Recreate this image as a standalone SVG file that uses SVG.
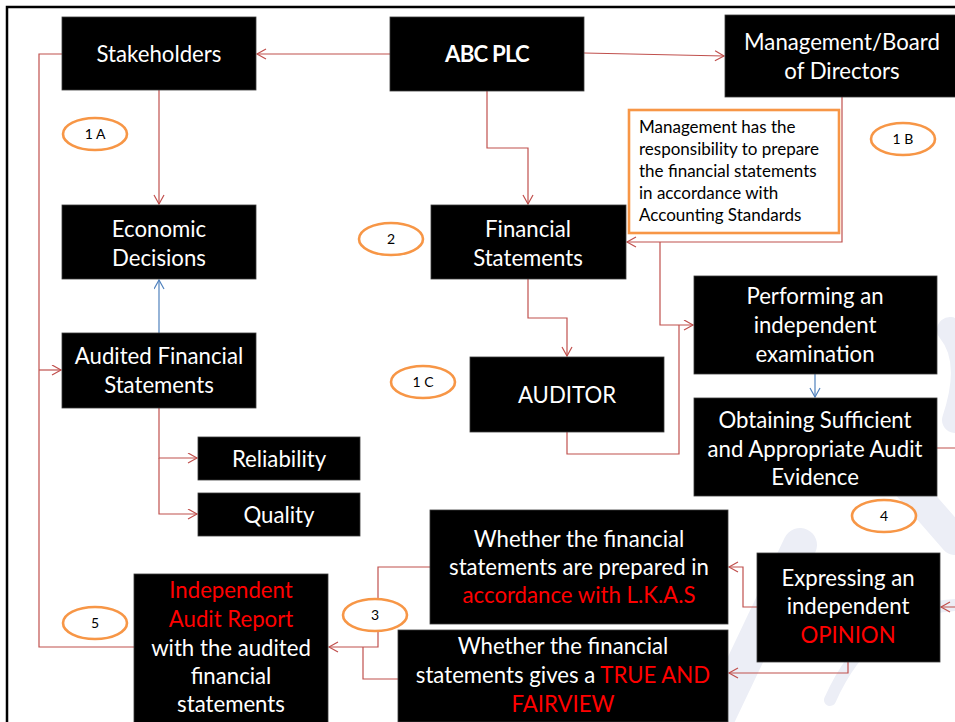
<svg xmlns="http://www.w3.org/2000/svg" width="955" height="722" viewBox="0 0 955 722">
<style>
.box{fill:#000;stroke:#3a3a3a;stroke-width:0.8}
.t{font-family:Lato,"Liberation Sans",sans-serif;font-size:22.2px;fill:#fff;text-anchor:middle}
.r{fill:#ff0000}
.c{fill:none;stroke:#c0504d;stroke-width:1.2}
.b{fill:none;stroke:#4f81bd;stroke-width:1.2}
.ell{fill:#fff;stroke:#f79646;stroke-width:2.6}
.el{font-family:Lato,"Liberation Sans",sans-serif;font-size:14px;fill:#000;text-anchor:middle}
.wm{fill:none;stroke:#eceef6;stroke-linecap:round}
</style>
<defs>
<marker id="ar" markerUnits="userSpaceOnUse" markerWidth="12" markerHeight="12" refX="10" refY="5.5" orient="auto">
<path d="M1,0.5 L10,5.5 L1,10.5" fill="none" stroke="#c0504d" stroke-width="1.2"/>
</marker>
<marker id="ab" markerUnits="userSpaceOnUse" markerWidth="12" markerHeight="12" refX="10" refY="5.5" orient="auto">
<path d="M1,0.5 L10,5.5 L1,10.5" fill="none" stroke="#4f81bd" stroke-width="1.2"/>
</marker>
</defs>
<rect width="955" height="722" fill="#fff"/>
<g id="watermark">
<path class="wm" stroke-width="34" d="M712,730 L800,545"/>
<path class="wm" stroke-width="30" d="M850,420 L955,540"/>
<path class="wm" stroke-width="26" d="M950,330 Q975,360 955,420"/>
<path class="wm" stroke-width="12" d="M830,700 Q870,610 955,605"/>
</g>
<rect x="7" y="7" width="1000" height="1000" fill="none" stroke="#000" stroke-width="2.5"/>
<g id="connectors">
<path class="c" d="M390,54 H257" marker-end="url(#ar)"/>
<path class="c" d="M584,53 L724,56" marker-end="url(#ar)"/>
<path class="c" d="M487,91 V148 H528 V204" marker-end="url(#ar)"/>
<path class="c" d="M159,90 V204" marker-end="url(#ar)"/>
<path class="b" d="M159,333 V280" marker-end="url(#ab)"/>
<path class="c" d="M842,97 V242 H627" marker-end="url(#ar)"/>
<path class="c" d="M660,242 V325 H693" marker-end="url(#ar)"/>
<path class="c" d="M528,279 V318 H567 V356" marker-end="url(#ar)"/>
<path class="c" d="M567,432 V454 H679 V325"/>
<path class="b" d="M815,374 V397" marker-end="url(#ab)"/>
<path class="c" d="M159,408 V458 H197" marker-end="url(#ar)"/>
<path class="c" d="M159,458 V514 H197" marker-end="url(#ar)"/>
<path class="c" d="M134,647 H39 V54 H62"/>
<path class="c" d="M39,370 H61" marker-end="url(#ar)"/>
<path class="c" d="M937,448 H965 V607 H941" marker-end="url(#ar)"/>
<path class="c" d="M757,607 H743 V567 H729" marker-end="url(#ar)"/>
<path class="c" d="M848,662 V673 H729" marker-end="url(#ar)"/>
<path class="c" d="M430,567 H378 V647 H329" marker-end="url(#ar)"/>
<path class="c" d="M398,679 H363 V647"/>
</g>
<g id="stakeholders"><rect class="box" x="62" y="17" width="194" height="73"/><text class="t" x="159" y="62">Stakeholders</text></g>
<g id="abc"><rect class="box" x="390" y="17" width="194" height="74"/><text class="t" x="487" y="62" font-weight="bold" letter-spacing="-0.8">ABC PLC</text></g>
<g id="management"><rect class="box" x="725" y="15" width="240" height="82"/><text class="t" x="842" y="50">Management/Board</text><text class="t" x="842" y="79">of Directors</text></g>
<g id="note"><rect x="629" y="110" width="210" height="123" fill="#fff" stroke="#f79646" stroke-width="2.6"/>
<text font-family="Lato,'Liberation Sans',sans-serif" font-size="17" fill="#000"><tspan x="639" y="133">Management has the</tspan><tspan x="639" y="155">responsibility to prepare</tspan><tspan x="639" y="177">the financial statements</tspan><tspan x="639" y="199">in accordance with</tspan><tspan x="639" y="221">Accounting Standards</tspan></text></g>
<g id="economic"><rect class="box" x="62" y="205" width="194" height="74"/><text class="t" x="159" y="237">Economic</text><text class="t" x="159" y="266">Decisions</text></g>
<g id="fs"><rect class="box" x="431" y="205" width="195" height="74"/><text class="t" x="528" y="237">Financial</text><text class="t" x="528" y="266">Statements</text></g>
<g id="performing"><rect class="box" x="694" y="276" width="243" height="98"/><text class="t" x="815" y="304">Performing an</text><text class="t" x="815" y="333">independent</text><text class="t" x="815" y="362">examination</text></g>
<g id="obtaining"><rect class="box" x="694" y="398" width="243" height="98"/><text class="t" x="815" y="428">Obtaining Sufficient</text><text class="t" x="815" y="457">and Appropriate Audit</text><text class="t" x="815" y="485">Evidence</text></g>
<g id="audited"><rect class="box" x="62" y="333" width="194" height="75"/><text class="t" x="159" y="364">Audited Financial</text><text class="t" x="159" y="393">Statements</text></g>
<g id="auditor"><rect class="box" x="470" y="357" width="194" height="75"/><text class="t" x="567" y="403">AUDITOR</text></g>
<g id="reliability"><rect class="box" x="198" y="437" width="162" height="43"/><text class="t" x="279" y="467">Reliability</text></g>
<g id="quality"><rect class="box" x="198" y="493" width="162" height="43"/><text class="t" x="279" y="523">Quality</text></g>
<g id="lkas"><rect class="box" x="430" y="510" width="298" height="114"/><text class="t" x="579" y="547">Whether the financial</text><text class="t" x="579" y="575">statements are prepared in</text><text class="t r" x="579" y="603">accordance with L.K.A.S</text></g>
<g id="truefair"><rect class="box" x="398" y="630" width="330" height="92"/><text class="t" x="563" y="654">Whether the financial</text><text class="t" x="563" y="683">statements gives a <tspan class="r">TRUE AND</tspan></text><text class="t r" x="563" y="712">FAIRVIEW</text></g>
<g id="expressing"><rect class="box" x="757" y="553" width="183" height="109"/><text class="t" x="848" y="586">Expressing an</text><text class="t" x="848" y="614">independent</text><text class="t r" x="848" y="643">OPINION</text></g>
<g id="report"><rect class="box" x="134" y="574" width="194" height="160"/><text class="t r" x="231" y="598">Independent</text><text class="t r" x="231" y="627">Audit Report</text><text class="t" x="231" y="656">with the audited</text><text class="t" x="231" y="684">financial</text><text class="t" x="231" y="712">statements</text></g>
<g id="e1a"><ellipse class="ell" cx="95" cy="134" rx="32" ry="16"/><text class="el" x="95" y="139">1 A</text></g>
<g id="e1b"><ellipse class="ell" cx="903" cy="139" rx="32" ry="16"/><text class="el" x="903" y="144">1 B</text></g>
<g id="e2"><ellipse class="ell" cx="391" cy="239" rx="32" ry="16"/><text class="el" x="391" y="244">2</text></g>
<g id="e1c"><ellipse class="ell" cx="423" cy="382" rx="32" ry="16"/><text class="el" x="423" y="387">1 C</text></g>
<g id="e4"><ellipse class="ell" cx="884" cy="516" rx="32" ry="16"/><text class="el" x="884" y="521">4</text></g>
<g id="e3"><ellipse class="ell" cx="375" cy="615" rx="32" ry="16"/><text class="el" x="375" y="620">3</text></g>
<g id="e5"><ellipse class="ell" cx="95" cy="623" rx="32" ry="16"/><text class="el" x="95" y="628">5</text></g>
</svg>
